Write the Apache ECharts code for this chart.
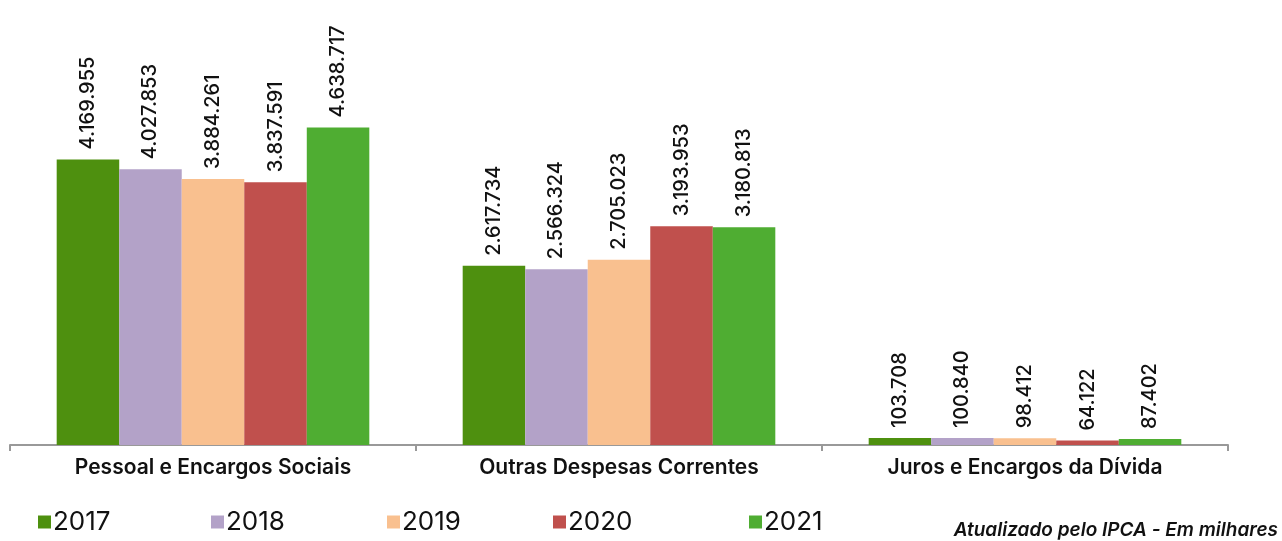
<!DOCTYPE html>
<html>
<head>
<meta charset="utf-8">
<script src="https://cdn.jsdelivr.net/npm/echarts@6/dist/echarts.min.js"></script>
<style>
	html, body { margin: 0; padding: 0; background: #fff; }
	#chart { width: 1282px; height: 541px; }
</style>
</head>
<body>
<div id="chart"></div>
<script>
var categories = ['Pessoal e Encargos Sociais', 'Outras Despesas Correntes', 'Juros e Encargos da Dívida'];
var years = ['2017', '2018', '2019', '2020', '2021'];
var values2017 = [4169955, 2617734, 103708];
var values2018 = [4027853, 2566324, 100840];
var values2019 = [3884261, 2705023, 98412];
var values2020 = [3837591, 3193953, 64122];
var values2021 = [4638717, 3180813, 87402];
var colors = ['#4e900f', '#b3a2c8', '#f9c08f', '#c0504d', '#4fad32'];
var legendLeft = [33, 206, 382, 548, 744];

var allValues = [values2017, values2018, values2019, values2020, values2021];
var fontName = 'Inter';

function fmt(v) {
	return String(v).replace(/\B(?=(\d{3})+(?!\d))/g, '.');
}

var series = [];
var legends = [];
for (var i = 0; i < years.length; i++) {
	series.push({
		name : years[i],
		type : 'bar',
		data : allValues[i],
		barCategoryGap : '23%',
		barGap : '0%',
		itemStyle : { color : colors[i] },
		label : {
			show : true,
			position : 'top',
			rotate : 90,
			align : 'left',
			verticalAlign : 'middle',
			distance : 10,
			fontFamily : fontName,
			fontSize : 20,
			fontWeight : 500,
			color : '#111',
			formatter : function(p) { return fmt(p.value); }
		}
	});
	legends.push({
		data : [years[i]],
		left : legendLeft[i],
		top : 504,
		icon : 'rect',
		itemWidth : 13,
		itemHeight : 13,
		itemGap : 4,
		textStyle : { fontFamily : fontName, fontSize : 26, color : '#111', padding : [0, 0, 0, -3] }
	});
}

var option = {
	animation : false,
	grid : { left : 10, right : 54, top : 0, bottom : 96, containLabel : false },
	legend : legends,
	xAxis : {
		type : 'category',
		data : categories,
		axisLine : { lineStyle : { color : '#999', width : 2 } },
		axisTick : { show : true, length : 6, lineStyle : { color : '#999', width : 2 } },
		axisLabel : { fontFamily : fontName, fontSize : 21, fontWeight : 600, color : '#111', margin : 12 }
	},
	yAxis : {
		type : 'value',
		min : 0,
		max : 6500000,
		show : false,
		splitLine : { show : false }
	},
	graphic : [{
		type : 'text',
		right : 4,
		top : 521,
		style : {
			text : 'Atualizado pelo IPCA - Em milhares',
			fontFamily : fontName,
			fontSize : 19,
			fontStyle : 'italic',
			fontWeight : 600,
			fill : '#111'
		}
	}],
	series : series
};

var myChart = echarts.init(document.getElementById('chart'));
myChart.setOption(option);
</script>
</body>
</html>
